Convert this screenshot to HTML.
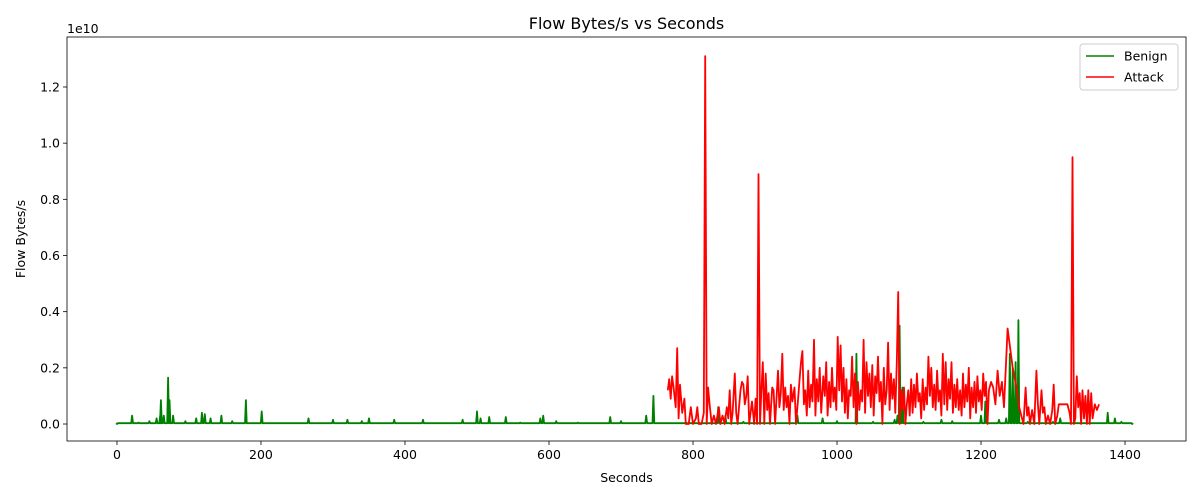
<!DOCTYPE html>
<html><head><meta charset="utf-8"><style>
body{margin:0;background:#fff;font-family:"DejaVu Sans","Liberation Sans",sans-serif}
svg text{font-family:"DejaVu Sans","Liberation Sans",sans-serif;fill:#000}
</style></head><body>
<svg id="c" width="1200" height="500"></svg>
<script>
const xTicks=[0,200,400,600,800,1000,1200,1400];
const yTicks=[0,0.2,0.4,0.6,0.8,1.0,1.2];
const benignBase=0.003;
const benignSec=[0,21,30,45,55,60,61,65,71,73,
78,95,110,118,122,130,145,160,179,201,
266,300,320,340,350,385,425,480,500,505,
517,540,560,588,592,610,640,685,700,735,
745,790,835,845,870,945,980,1000,1027,1050,
1080,1084,1087,1091,1120,1145,1160,1200,1206,1225,
1235,1240,1244,1248,1252,1265,1300,1310,1330,1376,
1386,1395,1410];
const benignVal=[0,.03,.005,.01,.02,.03,.085,.03,.165,.085,
.03,.01,.02,.04,.035,.02,.03,.01,.085,.045,
.02,.015,.015,.01,.02,.015,.015,.015,.045,.02,
.025,.025,.005,.02,.03,.01,.005,.025,.01,.03,
.1,.006,.06,.03,.008,.03,.02,.01,.25,.008,
.015,.03,.35,.13,.008,.015,.01,.03,.08,.015,
.02,.25,.2,.22,.37,.008,.008,.02,.005,.04,
.02,.008,0];
const attackSec=[765,767,769,771,773,776,778,780,782,785,788,790,794,797,800,804,806,808,812,815,817,819,821,823,826,829,832,836,838,841,844,847,849,851,853,855,858,860,862,866,868,870,872,874,876,878,882,885,887,889,891,893,895,897,899,901,903,905,907,910,912,914,916,918,920,922,924,926,928,930,932,934,936,938,941,943,946,948,950,952,954,956,958,960,962,964,966,968,970,972,974,976,978,981,983,985,987,989,991,993,995,997,999,1001,1003,1005,1007,1009,1011,1013,1015,1017,1019,1021,1023,1025,1027,1029,1031,1033,1035,1037,1039,1041,1043,1045,1047,1049,1051,1053,1055,1057,1059,1061,1063,1065,1067,1069,1071,1073,1075,1077,1079,1081,1083,1085,1087,1089,1091,1093,1095,1097,1099,1101,1103,1105,1107,1109,1111,1113,1115,1117,1119,1121,1123,1125,1127,1129,1131,1133,1135,1137,1139,1141,1143,1145,1147,1149,1151,1153,1155,1157,1159,1161,1163,1165,1167,1169,1171,1173,1175,1177,1179,1181,1183,1185,1187,1189,1191,1193,1195,1197,1199,1201,1203,1205,1207,1209,1211,1214,1217,1220,1223,1226,1229,1232,1237,1244,1250,1253,1256,1259,1262,1264,1266,1268,1271,1274,1277,1279,1281,1284,1286,1288,1290,1293,1296,1299,1301,1303,1306,1308,1311,1315,1320,1323,1325,1327,1329,1331,1333,1335,1337,1339,1341,1343,1345,1347,1349,1351,1353,1355,1358,1361,1364];
const attackVal=[.12,.16,.09,.17,.13,.06,.27,.02,.14,.04,.09,0,0,.06,0,.02,.06,0,0,.04,1.31,0,.13,.07,0,.03,0,.06,0,.03,0,.06,.02,.12,0,.04,.18,.04,0,.12,.15,.14,.07,.10,.17,0,.08,0,.09,0,.89,0,.12,.22,0,.18,.05,.11,0,.13,.12,0,.09,.19,.06,.11,.25,.05,.13,.06,.10,0,.14,.08,.13,0,.09,.16,.22,.26,.07,.12,.03,.19,.06,.14,.08,.30,.03,.16,.08,.20,.04,.17,.10,.22,.03,.15,.06,.20,.08,.13,.05,.31,.12,.28,.08,.20,.04,.16,.02,.12,.10,.24,.06,.18,0,.15,.05,.12,.08,.30,.04,.22,.10,.18,.06,.21,.03,.17,.11,.24,.08,.15,0,.20,.07,.12,.29,.05,.18,.09,.16,.04,.22,.47,0,.12,.05,.13,0,.07,.12,.03,.16,.04,.14,.06,.18,.08,.11,.02,.16,.05,.13,.07,.24,.10,.20,.06,.14,.05,.19,.08,.12,.03,.25,.07,.22,.05,.16,.09,.22,.04,.14,.06,.16,.05,.12,.03,.18,.06,.14,.08,.20,.02,.13,.06,.15,.04,.17,.08,.12,.05,.18,.10,.15,0,.12,.15,.13,.07,.19,.10,.15,.06,.34,.20,.12,.06,.03,0,.13,.03,.06,0,.05,0,.19,.07,0,.12,.04,.06,0,.03,0,.05,.14,0,.03,.07,.07,.07,.07,.04,0,.95,0,.02,.17,.06,.11,0,.12,.02,.10,0,.12,0,.11,.02,.07,.05,.07];

const NS="http://www.w3.org/2000/svg";
const svg=document.getElementById('c');
const L=67,R=1186,T=37,B=441;
const xMin=-69.4,xMax=1484.7,yMin=-0.0605,yMax=1.378;
const sx=v=>L+(v-xMin)/(xMax-xMin)*(R-L);
const sy=v=>B-(v-yMin)/(yMax-yMin)*(B-T);
function el(tag,attrs,parent){const e=document.createElementNS(NS,tag);for(const k in attrs)e.setAttribute(k,attrs[k]);(parent||svg).appendChild(e);return e;}

const title=el('text',{x:(L+R)/2,y:29,'text-anchor':'middle','font-size':16});
title.textContent='Flow Bytes/s vs Seconds';



xTicks.forEach(t=>{
  const x=sx(t);
  el('line',{x1:x,x2:x,y1:B,y2:B+4,stroke:'#000','stroke-width':0.8});
  const tx=el('text',{x:x,y:B+18,'text-anchor':'middle','font-size':12.5});
  tx.textContent=t;
  
  
});
yTicks.forEach(t=>{
  const y=sy(t);
  el('line',{x1:L-4,x2:L,y1:y,y2:y,stroke:'#000','stroke-width':0.8});
  const tx=el('text',{x:L-7,y:y+4.5,'text-anchor':'end','font-size':12.5});
  tx.textContent=t.toFixed(1);
  
  
});
const off=el('text',{x:67,y:33,'font-size':12.5});off.textContent='1e10';


const xl=el('text',{x:(L+R)/2,y:482,'text-anchor':'middle','font-size':12.5});xl.textContent='Seconds';


const yl=el('text',{x:0,y:0,'text-anchor':'middle','font-size':12.5,transform:`translate(25,${(T+B)/2}) rotate(-90)`});yl.textContent='Flow Bytes/s';



function pathFrom(pts){return pts.map((p,i)=>(i?'L':'M')+sx(p[0]).toFixed(1)+' '+sy(p[1]).toFixed(1)).join('');}
function line(pts,color,name){
  const p=el('path',{d:pathFrom(pts),fill:'none',stroke:color,'stroke-width':1.8,'stroke-linejoin':'round'});
  
  
}
// benign: each sample is a narrow spike rising from the baseline
const bPts=[];
benignSec.forEach((s,i)=>{bPts.push([s-1.2,benignBase]);bPts.push([s,benignVal[i]]);bPts.push([s+1.2,benignBase]);});
line(bPts,'#008000','benign-line');
line(attackSec.map((s,i)=>[s,attackVal[i]]),'#ff0000','attack-line');

const frame=el('rect',{x:L,y:T,width:R-L,height:B-T,fill:'none',stroke:'#000','stroke-width':0.8});



const lg=el('g',{});


el('rect',{x:1080,y:44,width:98,height:46,fill:'#fff',stroke:'#ccc',rx:3},lg);
[['Benign','#008000',56],['Attack','#ff0000',77]].forEach(([n,c,y])=>{
  const g=el('g',{},lg);
  
  
  el('line',{x1:1086,x2:1114,y1:y,y2:y,stroke:c,'stroke-width':1.6},g);
  const t=el('text',{x:1124,y:y+4.5,'font-size':12.5},g);t.textContent=n;
});
</script>
</body></html>
